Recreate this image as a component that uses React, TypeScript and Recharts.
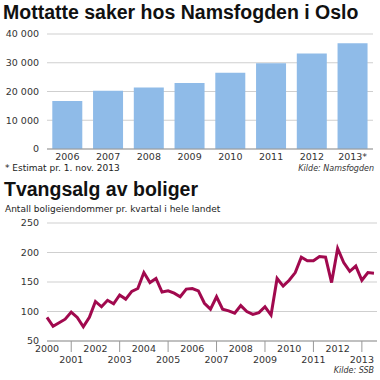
import { BarChart, Bar, LineChart, Line, XAxis, YAxis, CartesianGrid } from 'recharts';

// Mottatte saker hos Namsfogden i Oslo
const years = ['2006', '2007', '2008', '2009', '2010', '2011', '2012', '2013*'];
const cases = [16700, 20300, 21400, 23000, 26500, 29800, 33200, 36800];
const caseTicks = [0, 10000, 20000, 30000, 40000];

// Tvangsalg av boliger, per kvartal 2000 K1 - 2013 K3
const firstYear = 2000;
const quarterSales = [
  90, 75, 81, 87, 99, 90, 74, 90,
  117, 108, 119, 113, 128, 121, 134, 139,
  166, 149, 156, 133, 135, 131, 125, 138,
  139, 135, 114, 104, 125, 104, 101, 97,
  110, 100, 95, 98, 108, 94, 156, 143,
  153, 166, 192, 186, 186, 193, 192, 149,
  207, 183, 168, 177, 153, 166, 165,
];
const saleTicks = [50, 100, 150, 200, 250];
const yearTicks = [0, 4, 8, 12, 16, 20, 24, 28, 32, 36, 40, 44, 48, 52];

const font = '"DejaVu Sans", sans-serif';
const titleFont = '"Liberation Sans", Arial, sans-serif';

const spaced = (v: number) => String(v).replace(/\B(?=(\d{3})+(?!\d))/g, ' ');

function YearTick({ x, y, payload }: any) {
  const year = firstYear + Math.round(payload.value / 4);
  const odd = year % 2 === 1;
  return (
    <g>
      {odd && <line x1={x} y1={y} x2={x} y2={y + 11} stroke="#999" />}
      <text x={x} y={odd ? y + 22 : y + 11} textAnchor="middle" fontSize={9.5} fill="#333" fontFamily={font}>
        {year}
      </text>
    </g>
  );
}

export default function App() {
  const barData = years.map((name, i) => ({ name, value: cases[i] }));
  const lineData = quarterSales.map((v, q) => ({ q, v }));
  const tick = { fontSize: 9.5, fill: '#333', fontFamily: font };

  return (
    <div style={{ position: 'absolute', left: 0, top: 0, width: 380, height: 380, background: '#fff', fontFamily: font, overflow: 'hidden' }}>
      <div style={{ position: 'absolute', left: 3, top: 3, fontFamily: titleFont, fontWeight: 700, fontSize: 19.5, lineHeight: 1, color: '#111', whiteSpace: 'nowrap' }}>
        Mottatte saker hos Namsfogden i Oslo
      </div>

      <div style={{ position: 'absolute', left: 0, top: 0 }}>
        <BarChart width={380} height={165} data={barData} margin={{ top: 34, right: 7, left: 0, bottom: 0 }} barCategoryGap="13%">
          <CartesianGrid vertical={false} stroke="#cfcfcf" />
          <XAxis dataKey="name" tickLine={false} tickSize={0} tickMargin={4} height={16} stroke="#999" tick={tick} interval={0} />
          <YAxis width={47} domain={[0, 40000]} ticks={caseTicks} axisLine={false} tickLine={false} tick={tick} tickFormatter={spaced} />
          <Bar dataKey="value" fill="#8fbbe8" isAnimationActive={false} />
        </BarChart>
      </div>

      <div style={{ position: 'absolute', left: 5, top: 163.5, fontSize: 9, lineHeight: 1, color: '#222', whiteSpace: 'nowrap' }}>
        * Estimat pr. 1. nov. 2013
      </div>
      <div style={{ position: 'absolute', right: 6, top: 164.5, fontSize: 8, lineHeight: 1, fontStyle: 'italic', color: '#333', whiteSpace: 'nowrap' }}>
        Kilde: Namsfogden
      </div>

      <div style={{ position: 'absolute', left: 4, top: 179.5, fontFamily: titleFont, fontWeight: 700, fontSize: 19.5, lineHeight: 1, color: '#111', whiteSpace: 'nowrap' }}>
        Tvangsalg av boliger
      </div>
      <div style={{ position: 'absolute', left: 5, top: 205, fontSize: 9, lineHeight: 1, color: '#222', whiteSpace: 'nowrap' }}>
        Antall boligeiendommer pr. kvartal i hele landet
      </div>

      <div style={{ position: 'absolute', left: 0, top: 200 }}>
        <LineChart width={380} height={175} data={lineData} margin={{ top: 23, right: 3, left: 0, bottom: 0 }}>
          <CartesianGrid vertical={false} stroke="#cfcfcf" />
          <XAxis
            dataKey="q"
            type="number"
            domain={[0, 54.5]}
            ticks={yearTicks}
            tickLine={false}
            tickSize={0}
            tickMargin={0}
            height={34}
            stroke="#999"
            tick={<YearTick />}
            interval={0}
          />
          <YAxis width={47} domain={[50, 250]} ticks={saleTicks} axisLine={false} tickLine={false} tick={tick} />
          <Line dataKey="v" type="linear" stroke="#a1094e" strokeWidth={3} dot={false} isAnimationActive={false} />
        </LineChart>
      </div>

      <div style={{ position: 'absolute', right: 6, top: 367, fontSize: 8, lineHeight: 1, fontStyle: 'italic', color: '#333', whiteSpace: 'nowrap' }}>
        Kilde: SSB
      </div>
    </div>
  );
}
